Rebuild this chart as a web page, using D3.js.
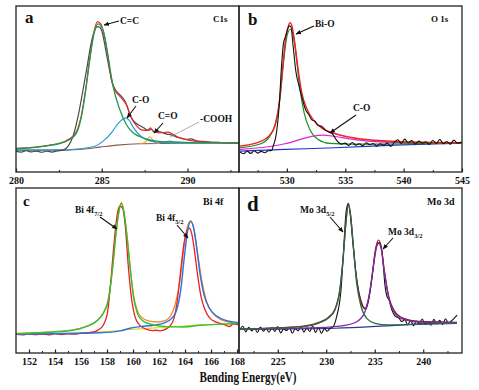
<!DOCTYPE html>
<html><head><meta charset="utf-8">
<script src="https://cdn.jsdelivr.net/npm/d3@7"></script>
<style>
html,body{margin:0;padding:0;background:#fff;}
text{font-family:"Liberation Serif","Times New Roman",serif;font-weight:bold;fill:#111;}
</style></head>
<body><svg id="chart" width="479" height="390"></svg>
<script>
// ---------------- DATA (binding energy eV, intensity a.u.) ----------------
// Panel a: C1s
const aTicks = [280, 285, 290];
const aMinor = [282.5, 287.5, 292.5];
const aRaw = [[280,12.4],[280.3,12.0],[280.6,12.8],[280.9,12.1],[281.2,12.6],[281.5,11.9],[281.8,12.5],[282.1,12.0],[282.4,12.7],[282.75,13.2],[283.04,15.6],[283.33,21.6],[283.62,33.6],[283.91,49.6],[284.15,63.6],[284.34,75.6],[284.53,83.6],[284.73,87.6],[284.88,87.2],[285.04,83.6],[285.23,73.6],[285.43,62.6],[285.62,53.6],[285.81,49.2],[286.05,46.6],[286.28,44.0],[286.47,40.0],[286.63,34.6],[286.82,31.2],[287.02,29.2],[287.21,28.0],[287.44,26.6],[287.69,25.2],[287.89,25.6],[288.08,24.0],[288.33,24.4],[288.57,23.6],[288.8,22.8],[289.05,22.4],[289.34,21.2],[289.63,20.4],[289.92,19.6],[290.21,20.0],[290.5,18.8],[290.9,18.4],[291.28,18.0],[291.86,17.8],[292.44,17.6],[293,17.4]];
const aEnvelope = [[280,14.2],[281.98,16.2],[282.95,19.0],[283.53,24.6],[283.82,34.6],[284.07,50.6],[284.3,68.6],[284.55,84.6],[284.75,90.6],[284.94,89.2],[285.14,82.6],[285.33,71.6],[285.56,55.6],[285.76,49.6],[286.14,44.6],[286.43,40.6],[286.73,32.6],[287.02,28.0],[287.4,25.2],[287.69,25.0],[287.83,26.6],[288.02,24.4],[288.37,23.6],[288.86,24.0],[289.15,22.6],[289.53,20.6],[290.12,19.0],[291.09,18.0],[293,17.6]];
const aCC = [[280,14.0],[281.98,16.0],[282.95,18.6],[283.53,23.6],[283.82,33.6],[284.07,49.6],[284.3,67.6],[284.55,83.6],[284.79,89.2],[284.98,87.6],[285.17,81.6],[285.37,69.6],[285.66,51.6],[286.05,37.6],[286.43,28.6],[286.82,23.6],[287.4,20.6],[288.18,18.6],[289.34,18.0],[290.7,17.6],[293,17.6]];
const aCO = [[280,13.2],[283,13.4],[284.5,15.2],[285.08,18.6],[285.56,23.6],[285.95,29.2],[286.2,31.6],[286.4,32.6],[286.59,31.2],[286.82,27.2],[287.11,23.2],[287.5,20.0],[288.08,18.2],[289.15,17.6],[293,17.6]];
const aCdO = [[287.21,17.0],[287.5,17.6],[287.66,19.6],[287.79,21.2],[287.95,19.6],[288.1,17.8],[288.37,17.2]];
const aCOOH = [[287.98,17.2],[288.57,17.8],[288.95,18.6],[289.34,18.0],[289.92,17.4]];
const aBase = [[280,13.2],[283,13.2],[284.1,14.0],[284.9,15.0],[285.9,16.2],[287.2,17.0],[288.8,17.2],[293,17.6]];

// Panel b: O 1s
const bTicks = [530, 535, 540, 545];
const bMinor = [527.5, 532.5, 537.5, 542.5];
const bRaw = [[525.97,12.0],[526.3,11.0],[526.6,12.6],[526.9,11.2],[527.2,12.8],[527.5,11.4],[527.8,12.4],[528.1,11.6],[528.4,12.8],[528.7,13.0],[528.83,15.6],[529.11,23.6],[529.34,39.6],[529.54,63.6],[529.71,77.6],[529.88,81.6],[530.05,85.6],[530.2,88.0],[530.34,87.6],[530.54,75.6],[530.77,60.6],[531.05,51.6],[531.34,43.6],[531.6,37.6],[531.88,34.6],[532.11,31.6],[532.4,30.6],[532.68,28.0],[532.97,27.6],[533.31,25.2],[533.6,24.0],[533.88,23.2],[534.17,20.0],[534.45,17.6],[534.68,16.8],[535.0,17.4],[535.3,16.0],[535.6,17.8],[535.9,16.2],[536.2,17.0],[536.5,15.8],[536.8,17.6],[537.1,16.4],[537.4,17.2],[537.7,15.6],[538.0,17.0],[538.3,16.2],[538.6,17.4],[538.9,15.4],[539.2,17.8],[539.5,19.4],[539.8,17.2],[540.1,19.8],[540.4,17.6],[540.7,19.0],[541.0,16.8],[541.3,18.6],[541.6,17.4],[541.9,18.2],[542.2,16.6],[542.5,19.0],[542.8,17.2],[543.1,19.6],[543.4,17.0],[543.7,18.4],[544.0,16.8],[544.3,19.2],[544.6,17.4],[544.97,18.0]];
const bEnvelope = [[525.97,15.6],[527.25,17.2],[528.4,21.2],[528.97,27.6],[529.31,39.6],[529.6,59.6],[529.88,79.6],[530.11,87.6],[530.28,90.0],[530.45,87.6],[530.68,77.6],[530.97,61.6],[531.25,48.6],[531.68,38.6],[532.25,31.6],[532.97,26.6],[534.11,23.2],[535.54,20.8],[536.97,19.4],[539.83,18.2],[544.97,17.6]];
const bBiO = [[525.97,14.6],[527.83,17.2],[528.54,21.6],[529.03,29.6],[529.4,43.6],[529.74,67.6],[530.03,82.6],[530.31,86.0],[530.57,81.6],[530.83,67.6],[531.11,50.6],[531.48,35.6],[531.97,25.6],[532.68,19.6],[533.68,17.2],[535.54,16.8],[544.97,17.6]];
const bCO = [[525.97,13.6],[528.4,15.2],[529.83,17.0],[531.25,19.8],[532.25,21.6],[533.11,22.2],[534.11,21.4],[535.54,19.8],[536.97,18.6],[539.83,17.8],[544.97,17.6]];
const bBase = [[525.97,12.6],[529.83,13.6],[534.11,14.6],[539.83,16.4],[544.97,17.4]];

// Panel c: Bi 4f
const cTicks = [152, 154, 156, 158, 160, 162, 164, 166, 168];
const cMinor = [153, 155, 157, 159, 161, 163, 165, 167];
const cRaw = [[150.92,11.3],[151.5,11.0],[152,11.6],[152.5,11.1],[153,11.5],[153.5,11.0],[154,11.7],[154.5,11.2],[155,11.6],[155.5,11.4],[156,12.0],[156.5,12.3],[157,12.8],[157.33,14.0],[157.72,17.0],[158.03,24.1],[158.28,42.2],[158.54,66.5],[158.8,84.7],[159.0,89.1],[159.21,87.7],[159.41,76.6],[159.64,52.3],[159.9,32.1],[160.15,22.0],[160.49,17.0],[160.85,15.0],[161.18,14.0],[161.51,13.6],[161.82,13.8],[162.13,13.4],[162.38,14.0],[162.59,14.8],[162.85,16.4],[163.15,21.0],[163.41,32.1],[163.67,50.3],[163.92,66.5],[164.18,74.6],[164.33,75.6],[164.51,72.5],[164.72,62.4],[164.95,48.3],[165.23,34.2],[165.54,26.1],[165.92,21.0],[166.31,19.0],[166.69,18.0],[167.08,17.0],[167.41,16.0],[167.72,17.6],[168.1,17.0]];
const cEnvelope = [[150.92,11.9],[154.9,13.6],[156.18,15.6],[157.21,19.6],[157.72,24.5],[158.1,32.5],[158.44,52.7],[158.69,72.9],[158.92,86.1],[159.1,91.1],[159.28,86.7],[159.51,72.9],[159.77,53.1],[160.03,35.4],[160.33,25.7],[160.67,21.6],[161.18,19.4],[161.82,18.8],[162.46,19.6],[162.85,22.0],[163.23,29.1],[163.62,44.3],[163.92,64.5],[164.18,76.6],[164.44,80.2],[164.69,74.6],[164.95,61.4],[165.28,44.3],[165.67,31.1],[166.18,23.7],[166.82,20.0],[167.46,18.6],[168.1,18.0]];
const cF72 = [[150.92,11.7],[154.9,13.3],[156.18,15.4],[157.21,19.4],[157.72,24.1],[158.1,32.1],[158.44,52.3],[158.69,72.5],[158.92,85.7],[159.1,90.7],[159.28,86.3],[159.51,72.5],[159.77,52.3],[160.03,34.2],[160.33,24.1],[160.67,20.0],[161.31,17.6],[162.59,16.0],[163.87,15.8],[165.15,16.8],[168.1,17.8]];
const cF52 = [[150.92,11.5],[157.46,12.3],[159.0,13.4],[159.77,15.0],[160.54,16.0],[161.56,16.8],[162.46,18.4],[162.97,21.0],[163.36,26.1],[163.67,38.2],[163.95,58.4],[164.21,74.6],[164.44,79.6],[164.67,75.6],[164.9,63.5],[165.15,48.3],[165.46,35.2],[165.87,27.1],[166.44,22.4],[167.2,19.6],[168.1,18.4]];
const cBase = [[150.92,11.5],[157.46,12.7],[160.03,14.4],[162.59,15.6],[165.15,17.0],[168.1,17.6]];

// Panel d: Mo 3d
const dTicks = [225, 230, 235, 240];
const dMinor = [222.5, 227.5, 232.5, 237.5, 242.5];
const dRaw = [[221.07,14.0],[221.4,16.2],[221.7,12.8],[222.0,15.6],[222.3,13.4],[222.6,15.0],[222.9,12.4],[223.2,15.8],[223.5,13.2],[223.8,14.8],[224.1,12.6],[224.4,15.4],[224.7,13.0],[225.0,16.0],[225.3,12.2],[225.6,14.6],[225.9,13.6],[226.2,15.6],[226.5,12.0],[226.8,14.8],[227.1,13.4],[227.4,16.2],[227.7,12.6],[228.0,15.2],[228.3,13.0],[228.6,16.4],[228.9,12.4],[229.2,15.6],[229.5,11.8],[229.8,14.8],[230.1,13.2],[230.4,15.0],[230.7,15.8],[231.07,22.0],[231.52,38.2],[231.79,62.4],[232.03,84.7],[232.27,90.7],[232.48,83.6],[232.72,68.5],[233.03,50.3],[233.38,36.2],[233.72,28.5],[234.07,26.5],[234.34,31.1],[234.69,44.3],[235.03,60.4],[235.31,66.9],[235.55,66.5],[235.79,59.4],[236.07,40.2],[236.24,34.6],[236.48,32.1],[236.76,26.1],[237.1,22.4],[237.52,21.0],[237.79,19.0],[238.1,20.2],[238.4,17.0],[238.7,19.8],[239.0,16.6],[239.3,19.4],[239.6,17.8],[239.9,20.6],[240.2,17.2],[240.5,19.0],[240.8,16.8],[241.1,20.4],[241.4,17.6],[241.7,19.8],[242.0,17.2],[242.3,20.8],[242.6,18.0],[242.9,19.4],[243.2,21.2],[243.5,23.0]];
const dEnvelope = [[221.07,14.6],[227.45,16.2],[229.17,18.4],[230.2,21.6],[230.9,26.7],[231.41,39.0],[231.76,59.2],[232.03,79.4],[232.27,90.7],[232.52,83.4],[232.79,65.3],[233.14,43.9],[233.59,31.5],[234.0,27.1],[234.34,32.1],[234.76,48.3],[235.1,63.5],[235.38,68.5],[235.65,64.9],[235.96,51.3],[236.41,35.2],[237.03,25.5],[237.96,21.0],[239.52,19.2],[243.48,18.6]];
const dD52 = [[221.07,14.4],[227.45,15.8],[229.17,18.0],[230.2,21.0],[230.9,26.1],[231.41,38.2],[231.76,58.4],[232.03,78.6],[232.27,89.7],[232.52,82.6],[232.79,64.5],[233.14,42.2],[233.59,28.1],[234.17,21.0],[235.03,18.0],[236.41,17.0],[239.52,17.4],[243.48,18.0]];
const dD32 = [[221.07,14.4],[229.17,15.4],[231.93,16.8],[233.31,19.6],[234.0,25.1],[234.52,38.2],[234.93,55.4],[235.2,64.5],[235.41,66.5],[235.65,63.5],[235.96,50.3],[236.41,34.2],[237.03,24.5],[237.96,20.4],[239.52,18.8],[243.48,18.4]];
const dBase = [[221.07,14.4],[230.9,15.0],[236.07,16.4],[239.52,17.6],[243.48,18.4]];

// ---------------- DRAWING ----------------
const svg = d3.select("#chart");
svg.append("rect").attr("width",479).attr("height",390).attr("fill","#fff");
const defs = svg.append("defs");
defs.append("marker").attr("id","arr").attr("viewBox","0 0 10 10").attr("refX",9).attr("refY",5)
  .attr("markerWidth",5).attr("markerHeight",5).attr("orient","auto")
  .append("path").attr("d","M0,1 L10,5 L0,9 Z").attr("fill","#111");

const panels = [
  {x0:16,x1:239,y0:6,y1:172,dom:[280,293],ticks:aTicks,minor:aMinor,
   series:[[aBase,"#8b5a48",1.1],[aCOOH,"#b36ad6",1.1],[aCdO,"#e8a317",1.1],[aCO,"#1d9fd4",1.2],[aRaw,"#4a4a4a",1.2],[aEnvelope,"#e8262a",1.2],[aCC,"#1f9a50",1.3]],
   letter:["a",25,23,17], tag:["C1s",213,22,9],
   notes:[{t:["C=C"],x:120,y:24,a:[119,21,104,25]},{t:["C-O"],x:132,y:103,a:[136,106,127,118]},
          {t:["C=O"],x:158,y:119,a:[163,123,154,133]},{t:["-COOH"],x:200,y:122,a:[199,122,170,137],thin:true}]},
  {x0:239,x1:462,y0:6,y1:172,dom:[525.9,545],ticks:bTicks,minor:bMinor,
   series:[[bBase,"#2233cc",1.2],[bCO,"#e020e0",1.2],[bBiO,"#1f8f1f",1.2],[bEnvelope,"#ee2222",1.4],[bRaw,"#111",1.1]],
   letter:["b",248,25,17], tag:["O 1s",431,22,9],
   notes:[{t:["Bi-O"],x:315,y:27,a:[314,26,296,34]},{t:["C-O"],x:353,y:111,a:[356,115,330,133]}]},
  {x0:16,x1:239,y0:188,y1:353,dom:[151,168.15],ticks:cTicks,minor:cMinor,
   series:[[cBase,"#e6d21e",1.2],[cEnvelope,"#f08a30",1.3],[cRaw,"#e82020",1.3],[cF52,"#2a72e0",1.4],[cF72,"#33c233",1.4]],
   letter:["c",23,206,15], tag:["Bi 4f",203,205,10],
   notes:[{t:["Bi 4f","7/2"],x:75,y:213,a:[100,217,117,229]},{t:["Bi 4f","5/2"],x:156,y:221,a:[177,225,188,238]}]},
  {x0:239,x1:462,y0:188,y1:353,dom:[221,244],ticks:dTicks,minor:dMinor,
   series:[[dBase,"#2a3a8a",1.2],[dRaw,"#111",1.1],[dEnvelope,"#8b1a1a",1.2],[dD32,"#7a2aa6",1.3],[dD52,"#2a6a4c",1.3]],
   letter:["d",247,211,21], tag:["Mo 3d",427,205,10],
   notes:[{t:["Mo 3d","5/2"],x:300,y:213,a:[330,217,343,232]},{t:["Mo 3d","3/2"],x:388,y:235,a:[393,238,383,249]}]}
];

panels.forEach((p,i)=>{
  const x = d3.scaleLinear().domain(p.dom).range([p.x0,p.x1]);
  const y = d3.scaleLinear().domain([0,100]).range([p.y1,p.y0]);
  const g = svg.append("g");
  const cid = "clip"+i;
  defs.append("clipPath").attr("id",cid).append("rect")
    .attr("x",p.x0).attr("y",p.y0).attr("width",p.x1-p.x0).attr("height",p.y1-p.y0);
  const line = d3.line().x(d=>x(d[0])).y(d=>y(d[1])).curve(d3.curveMonotoneX);
  const sg = g.append("g").attr("clip-path",`url(#${cid})`);
  p.series.forEach(([data,col,w])=>{
    sg.append("path").datum(data).attr("d",line).attr("fill","none")
      .attr("stroke",col).attr("stroke-width",w).attr("stroke-linejoin","round");
  });
  // frame
  g.append("rect").attr("x",p.x0).attr("y",p.y0).attr("width",p.x1-p.x0).attr("height",p.y1-p.y0)
    .attr("fill","none").attr("stroke","#222").attr("stroke-width",1.3);
  // axes
  const ax = g.append("g").attr("transform",`translate(0,${p.y1})`)
    .call(d3.axisBottom(x).tickValues(p.ticks).tickSize(-3.5).tickPadding(5).tickFormat(d3.format("d")));
  ax.select(".domain").remove();
  ax.selectAll("line").attr("stroke","#222").attr("stroke-width",1.2);
  ax.selectAll("text").attr("font-size",10).attr("font-family","Liberation Serif, serif").attr("font-weight","bold").attr("fill","#111");
  const mx = g.append("g").attr("transform",`translate(0,${p.y1})`)
    .call(d3.axisBottom(x).tickValues(p.minor).tickSize(-2).tickFormat(""));
  mx.select(".domain").remove();
  mx.selectAll("line").attr("stroke","#222").attr("stroke-width",1);
  // letter & tag
  g.append("text").attr("x",p.letter[1]).attr("y",p.letter[2]).attr("font-size",p.letter[3]).text(p.letter[0]);
  g.append("text").attr("x",p.tag[1]).attr("y",p.tag[2]).attr("font-size",p.tag[3]).text(p.tag[0]);
  // notes
  p.notes.forEach(n=>{
    const t = g.append("text").attr("x",n.x).attr("y",n.y).attr("font-size",9.5);
    t.append("tspan").text(n.t[0]);
    if(n.t[1]) t.append("tspan").attr("font-size",6.5).attr("dy",2.5).text(n.t[1]);
    g.append("line").attr("x1",n.a[0]).attr("y1",n.a[1]).attr("x2",n.a[2]).attr("y2",n.a[3])
      .attr("stroke",n.thin?"#888":"#111").attr("stroke-width",n.thin?0.7:1.1)
      .attr("marker-end",n.thin?null:"url(#arr)");
  });
});

svg.append("text").attr("x",248).attr("y",382).attr("text-anchor","middle")
  .attr("font-size",14).attr("textLength",97).attr("lengthAdjust","spacingAndGlyphs")
  .text("Bending Energy(eV)");
</script>
</body></html>
